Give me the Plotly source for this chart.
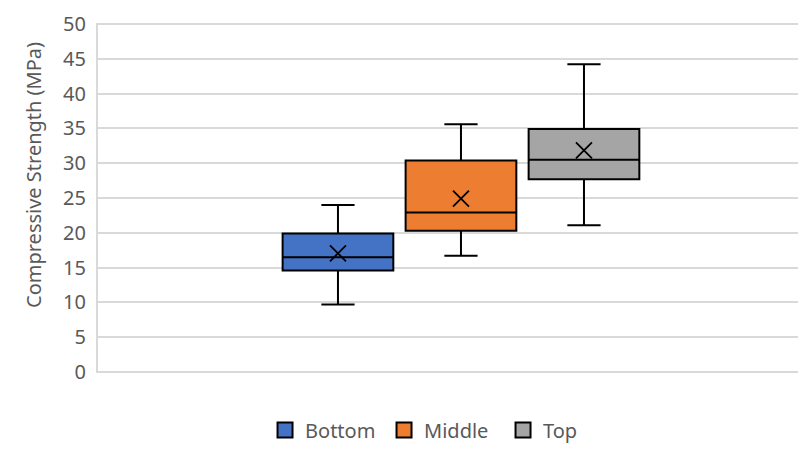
import plotly.graph_objects as go

series = ["Bottom", "Middle", "Top"]
positions = [1, 2, 3]
lower_whisker = [9.7, 16.7, 21.1]
q1 = [14.6, 20.3, 27.7]
median = [16.5, 22.9, 30.5]
q3 = [19.9, 30.4, 34.9]
upper_whisker = [24.0, 35.6, 44.2]
means = [17.05, 24.9, 31.85]
colors = ["#4472C4", "#ED7D31", "#A5A5A5"]

y_ticks = list(range(0, 55, 5))

fig = go.Figure()
for i, name in enumerate(series):
    fig.add_trace(go.Box(
        name=name,
        x=[positions[i]],
        q1=[q1[i]], median=[median[i]], q3=[q3[i]],
        lowerfence=[lower_whisker[i]], upperfence=[upper_whisker[i]],
        width=0.9,
        whiskerwidth=0.3,
        fillcolor=colors[i],
        line=dict(color="black", width=2),
        boxpoints=False,
        showlegend=False,
        hoverinfo="skip",
    ))

fig.add_trace(go.Scatter(
    x=positions, y=means, mode="markers", showlegend=False,
    marker=dict(symbol="x-thin-open", size=16, color="black",
                line=dict(color="black", width=1.8)),
    hoverinfo="skip",
))

# legend entries
for i, name in enumerate(series):
    fig.add_trace(go.Scatter(
        name=name, x=[None], y=[None], mode="markers",
        marker=dict(symbol="square", size=15, color=colors[i],
                    line=dict(color="black", width=2)),
    ))

fig.add_shape(type="rect", xref="paper", yref="paper", x0=0, x1=1.01, y0=0, y1=1,
              line=dict(color="#D9D9D9", width=2), layer="below")

fig.add_annotation(text="Compressive Strength (MPa)", textangle=-90,
                   xref="paper", yref="paper", x=-0.0893, y=0.566,
                   xanchor="center", yanchor="middle", showarrow=False,
                   font=dict(size=20, color="#595959"))

fig.update_layout(
    width=806, height=450,
    margin=dict(l=89, r=0, t=16, b=86),
    paper_bgcolor="white", plot_bgcolor="white",
    font=dict(family="Noto Sans", color="#595959"),
    showlegend=True,
    legend=dict(orientation="h", x=0.4833, xanchor="center", y=-0.167, yanchor="middle",
                font=dict(size=20, color="#595959"), traceorder="normal",
                itemsizing="trace", itemwidth=30, tracegroupgap=0,
                entrywidth=74, entrywidthmode="pixels"),
    xaxis=dict(range=[-0.959, 4.870], showticklabels=False, showgrid=False,
               zeroline=False, showline=False, ticks="", automargin=False),
    yaxis=dict(range=[0, 50], tickvals=y_ticks, ticktext=[str(v) for v in y_ticks],
               showgrid=True, gridcolor="#D9D9D9", gridwidth=1.5,
               zeroline=False, showline=False, ticks="", automargin=False,
               tickfont=dict(size=20, color="#595959"), ticklabelstandoff=10),
)

fig.write_html("out.html")
